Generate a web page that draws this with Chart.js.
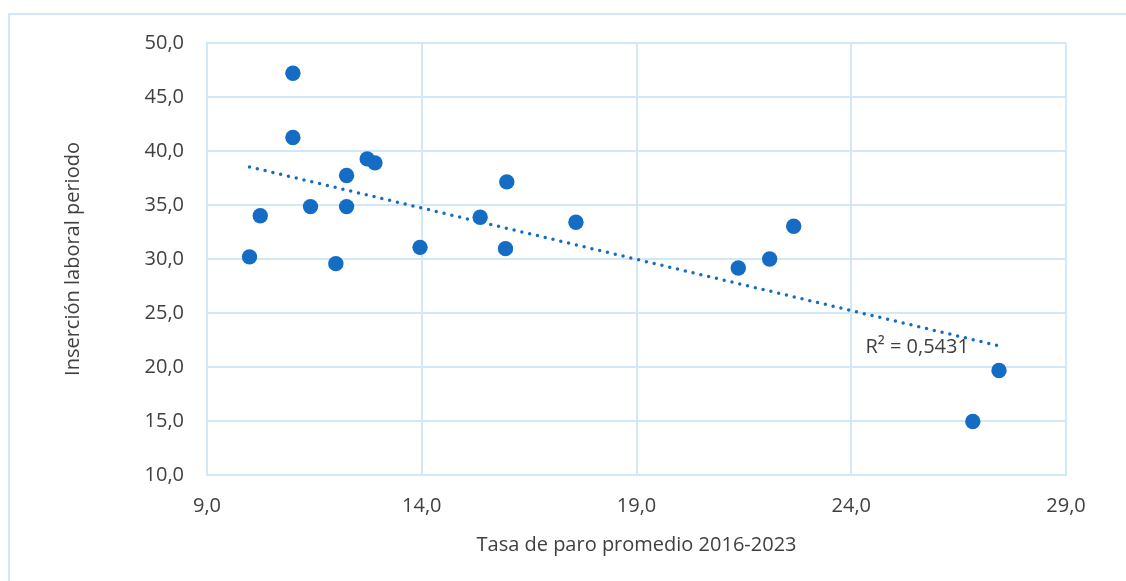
<!DOCTYPE html>
<html>
<head>
<meta charset="utf-8">
<script src="https://cdn.jsdelivr.net/npm/chart.js@4.4.1/dist/chart.umd.min.js"></script>
<style>
    html, body { margin: 0; padding: 0; background: #fff; overflow: hidden; }
    #frame {
        position: absolute; left: 8px; top: 13px;
        width: 1300px; height: 800px;
        border: 2px solid #d3e8f7;
    }
    #wrap { position: absolute; left: 0; top: 0; width: 1126px; height: 581px; }
</style>
</head>
<body>
<div id="frame"></div>
<div id="wrap"><canvas id="scatterChart" width="1126" height="581"></canvas></div>
<script>
// Tasa de paro vs inserción laboral
const tasaParo = [9.99, 10.24, 11.0, 11.0, 11.41, 12.0, 12.25, 12.25, 12.73, 12.91,
                  13.96, 15.36, 15.98, 15.95, 17.59, 21.37, 22.10, 22.66, 27.44, 26.83];
const insercion = [30.2, 34.0, 47.2, 41.25, 34.85, 29.57, 37.73, 34.85, 39.27, 38.9,
                   31.08, 33.86, 37.14, 30.96, 33.4, 29.17, 30.0, 33.03, 19.68, 14.95];

// Linear trendline ends as drawn in the picture
const trendX = [9.99, 27.44];
const trendY = [38.53, 21.96];
const r2Label = 'R² = 0,5431';
const r2Pos = [24.33, 21.84];

const xTitle = 'Tasa de paro promedio 2016-2023';
const yTitle = 'Inserción laboral periodo';

const blue = '#156cc4';
const gridColor = '#d3e8f7';
const textColor = '#404040';
const fontFamily = '"Open Sans", Lato, sans-serif';
const fontSize = 20;

const fmt = v => v.toFixed(1).replace('.', ',');

// draws the R² label next to the trendline
const r2Plugin = {
    id: 'r2Label',
    afterDatasetsDraw(chart) {
        const ctx = chart.ctx;
        const x = chart.scales.x.getPixelForValue(r2Pos[0]);
        const y = chart.scales.y.getPixelForValue(r2Pos[1]);
        ctx.save();
        ctx.font = fontSize + 'px ' + fontFamily;
        ctx.fillStyle = textColor;
        ctx.textAlign = 'left';
        ctx.textBaseline = 'middle';
        ctx.fillText(r2Label, x, y);
        ctx.restore();
    }
};

const ctx = document.getElementById('scatterChart');
new Chart(ctx, {
    type: 'scatter',
    data: {
        datasets: [{
            label: 'Datos',
            data: tasaParo.map((x, i) => ({ x: x, y: insercion[i] })),
            backgroundColor: blue,
            borderColor: blue,
            pointRadius: 7.7,
            pointBorderWidth: 0,
            order: 2
        }, {
            label: 'Tendencia',
            type: 'line',
            data: trendX.map((x, i) => ({ x: x, y: trendY[i] })),
            borderColor: blue,
            borderWidth: 3.5,
            borderDash: [0, 8],
            borderCapStyle: 'round',
            pointRadius: 0,
            fill: false,
            order: 1
        }]
    },
    options: {
        responsive: false,
        animation: false,
        layout: { padding: { left: 57, top: 43, right: 60, bottom: 20 } },
        scales: {
            x: {
                type: 'linear',
                min: 9, max: 29,
                afterFit: s => { s.height = 86; },
                ticks: { stepSize: 5, padding: 19, color: textColor, font: { size: fontSize, family: fontFamily }, callback: fmt },
                grid: { color: gridColor, lineWidth: 2, drawTicks: false },
                border: { color: gridColor, width: 2 },
                title: { display: true, text: xTitle, color: textColor, font: { size: fontSize, family: fontFamily } }
            },
            y: {
                min: 10, max: 50,
                afterFit: s => { s.width = 150; },
                ticks: { stepSize: 5, padding: 23, color: textColor, font: { size: fontSize, family: fontFamily }, callback: fmt },
                grid: { color: gridColor, lineWidth: 2, drawTicks: false },
                border: { color: gridColor, width: 2 },
                title: { display: true, text: yTitle, color: textColor, font: { size: fontSize, family: fontFamily } }
            }
        },
        plugins: {
            legend: { display: false },
            tooltip: { enabled: false }
        }
    },
    plugins: [r2Plugin]
});
</script>
</body>
</html>
